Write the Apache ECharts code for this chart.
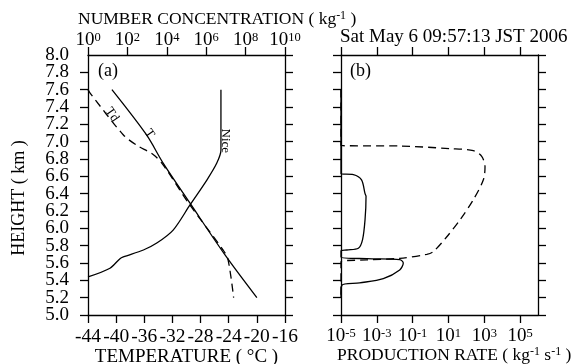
<!DOCTYPE html>
<html>
<head>
<meta charset="utf-8">
<script src="https://cdn.jsdelivr.net/npm/echarts@6/dist/echarts.min.js"></script>
<style>
  html, body { margin: 0; padding: 0; background: #fff; }
  #chart { width: 577px; height: 364px; }
</style>
</head>
<body>
<div id="chart"></div>
<script>
const FONT = 'Liberation Serif';

// panel (a): temperature profiles (degC) against height (km)
const tHeight = [7.6, 7.08, 6.75, 6.29, 5.69, 5.2];
const tTemp = [-40.6, -35.7, -33.3, -29.5, -24.5, -20.0];

const tdHeight = [7.6, 7.56, 7.08, 6.96, 6.85, 6.73, 6.29, 5.75, 5.64, 5.2];
const tdTemp = [-44.0, -43.7, -39.0, -37.1, -34.7, -33.3, -29.7, -24.8, -24.1, -23.3];

// panel (a): ice number concentration (kg-1)
const niceHeight = [5.44, 5.54, 5.65, 5.67, 5.75, 5.83, 5.98, 6.27, 6.56, 6.75, 6.9, 7.6];
const niceConc = [1, 13, 42, 62, 650, 3100, 2.1e4, 1.5e5, 1.1e6, 3.4e6, 5.6e6, 5.6e6];

// panel (b): production rates (kg-1 s-1)
const solidHeight = [7.6, 6.63, 6.62, 6.56, 6.4, 6.37, 6.1, 5.87, 5.77, 5.75, 5.74,
  5.67, 5.65, 5.64, 5.6, 5.52, 5.42, 5.37, 5.34, 5.2];
const solidRate = [1e-5, 1e-5, 4.9e-5, 1.4e-4, 2.2e-4, 2.5e-4, 2.2e-4, 1.6e-4, 9.3e-5, 2.1e-5, 1e-5,
  1e-5, 2.8e-4, 1.9e-2, 3.0e-2, 1.9e-2, 2.3e-3, 1.1e-4, 1.1e-5, 1e-5];

const dashHeight = [7.6, 6.955, 6.95, 6.92, 6.896, 6.83, 6.71, 6.56, 6.33, 6.1, 5.9,
  5.73, 5.7, 5.654, 5.635, 5.615, 5.2];
const dashRate = [1e-5, 1e-5, 1.9e-2, 12, 245, 720, 1100, 890, 245, 45, 7.9,
  1.4, 0.62, 1.9e-2, 2.8e-4, 1e-5, 1e-5];

const concTicks = [1, 1e2, 1e4, 1e6, 1e8, 1e10];
const rateTicks = [1e-5, 1e-3, 1e-1, 1e1, 1e3, 1e5];

const pair = (xs, ys) => xs.map((x, i) => [x, ys[i]]);

const supStyle = { fontFamily: FONT, fontSize: 12.5, color: '#000', verticalAlign: 'top', lineHeight: 12 };
const powLabel = (v) => '10{s|' + Math.round(Math.log10(v)) + '}';

const axisLine = { show: true, onZero: false, lineStyle: { color: '#000', width: 1.3 } };
const tick = { show: true, inside: false, length: 8, lineStyle: { color: '#000', width: 1.3 } };

// height labels are split over two stacked left axes (alternate ticks),
// so neighbouring labels at 0.2 km spacing are never auto-hidden
function heightAxis(gridIndex, position, labelPhase) {
  const showLabel = labelPhase !== null;
  return {
    type: 'value', gridIndex, position, min: 5, max: 8, interval: 0.2,
    axisLine: labelPhase === 1 ? { show: false } : axisLine,
    axisTick: labelPhase === 1 ? { show: false } : tick,
    splitLine: { show: false },
    axisLabel: {
      show: showLabel,
      showMinLabel: labelPhase === 0, showMaxLabel: labelPhase === 1, hideOverlap: false,
      margin: 19, fontFamily: FONT, fontSize: 19, color: '#000',
      formatter: (v) => {
        const k = Math.round((v - 5) / 0.2);
        return k % 2 === labelPhase ? v.toFixed(1) : '';
      }
    }
  };
}

const chart = echarts.init(document.getElementById('chart'));
chart.setOption({
  animation: false,
  backgroundColor: '#fff',
  textStyle: { fontFamily: FONT },
  grid: [
    { left: 88, top: 55, width: 197, height: 260, outerBoundsMode: 'none' },
    { left: 341, top: 55, width: 197, height: 260, outerBoundsMode: 'none' }
  ],
  title: [
    {
      text: 'NUMBER CONCENTRATION ( kg{s|-1} )', left: 78, top: 10, padding: 0,
      textStyle: {
        fontFamily: FONT, fontSize: 17.5, fontWeight: 'normal', color: '#000',
        rich: { s: { fontFamily: FONT, fontSize: 12, verticalAlign: 'top', lineHeight: 12 } }
      }
    },
    {
      text: 'Sat May 6 09:57:13 JST 2006', left: 340, top: 28, padding: 0,
      textStyle: { fontFamily: FONT, fontSize: 19, fontWeight: 'normal', color: '#000' }
    },
    {
      text: 'PRODUCTION RATE ( kg{s|-1} s{s|-1} )', left: 337, top: 346, padding: 0,
      textStyle: {
        fontFamily: FONT, fontSize: 17.5, fontWeight: 'normal', color: '#000',
        rich: { s: { fontFamily: FONT, fontSize: 12, verticalAlign: 'top', lineHeight: 12 } }
      }
    }
  ],
  graphic: [
    { type: 'text', left: 98, top: 62, style: { text: '(a)', font: '18px "Liberation Serif"', fill: '#000' } },
    { type: 'text', left: 350, top: 62, style: { text: '(b)', font: '18px "Liberation Serif"', fill: '#000' } },
    {
      type: 'text', x: 19, y: 198, rotation: Math.PI / 2,
      style: { text: 'HEIGHT ( km )', font: '18px "Liberation Serif"', fill: '#000', align: 'center', verticalAlign: 'middle' }
    }
  ],
  xAxis: [
    {
      type: 'value', gridIndex: 0, position: 'bottom', min: -44, max: -16, interval: 4,
      name: 'TEMPERATURE ( °C )', nameLocation: 'middle', nameGap: 33, nameMoveOverlap: false,
      nameTextStyle: { fontFamily: FONT, fontSize: 19, color: '#000' },
      axisLine, axisTick: tick, splitLine: { show: false },
      axisLabel: {
        showMinLabel: true, showMaxLabel: true, hideOverlap: false,
        margin: 12, fontFamily: FONT, fontSize: 19.5, color: '#000'
      }
    },
    {
      type: 'log', logBase: 10, gridIndex: 0, position: 'top', min: 1, max: 1e10,
      axisLine, splitLine: { show: false },
      axisTick: Object.assign({ customValues: concTicks }, tick),
      axisLabel: {
        customValues: concTicks, margin: 5, formatter: powLabel,
        fontFamily: FONT, fontSize: 19, color: '#000', rich: { s: supStyle }
      }
    },
    {
      type: 'log', logBase: 10, gridIndex: 1, position: 'bottom', min: 1e-5, max: 1e6,
      axisLine, splitLine: { show: false },
      axisTick: Object.assign({ customValues: rateTicks }, tick),
      axisLabel: {
        customValues: rateTicks, margin: 12, formatter: powLabel,
        fontFamily: FONT, fontSize: 19, color: '#000', rich: { s: supStyle }
      }
    },
    {
      type: 'log', logBase: 10, gridIndex: 1, position: 'top', min: 1e-5, max: 1e6,
      axisLine, splitLine: { show: false },
      axisTick: Object.assign({ customValues: rateTicks }, tick),
      axisLabel: { show: false }
    }
  ],
  yAxis: [
    heightAxis(0, 'left', 0),
    heightAxis(0, 'right', null),
    heightAxis(1, 'left', null),
    heightAxis(1, 'right', null),
    heightAxis(0, 'left', 1)
  ],
  series: [
    {
      name: 'T', type: 'line', xAxisIndex: 0, yAxisIndex: 0, data: pair(tTemp, tHeight),
      symbol: 'none', smooth: 0.3, lineStyle: { color: '#000', width: 1.3 },
      markPoint: {
        symbol: 'circle', symbolSize: 1, itemStyle: { color: 'rgba(0,0,0,0)' },
        label: { show: true, position: 'inside', formatter: 'T', rotate: -55, fontFamily: FONT, fontSize: 13, color: '#000' },
        data: [{ coord: [-35.3, 7.09] }]
      }
    },
    {
      name: 'Td', type: 'line', xAxisIndex: 0, yAxisIndex: 0, data: pair(tdTemp, tdHeight),
      symbol: 'none', smooth: 0.3, lineStyle: { color: '#000', width: 1.3, type: [8, 5] },
      markPoint: {
        symbol: 'circle', symbolSize: 1, itemStyle: { color: 'rgba(0,0,0,0)' },
        label: { show: true, position: 'inside', formatter: 'Td', rotate: -55, fontFamily: FONT, fontSize: 13, color: '#000' },
        data: [{ coord: [-40.6, 7.31] }]
      }
    },
    {
      name: 'Nice', type: 'line', xAxisIndex: 1, yAxisIndex: 0, data: pair(niceConc, niceHeight),
      symbol: 'none', smooth: 0.3, lineStyle: { color: '#000', width: 1.3 },
      markPoint: {
        symbol: 'circle', symbolSize: 1, itemStyle: { color: 'rgba(0,0,0,0)' },
        label: { show: true, position: 'inside', formatter: 'Nice', rotate: -90, fontFamily: FONT, fontSize: 13, color: '#000' },
        data: [{ coord: [9e6, 7.01] }]
      }
    },
    {
      name: 'solid', type: 'line', xAxisIndex: 2, yAxisIndex: 2, data: pair(solidRate, solidHeight),
      symbol: 'none', smooth: 0.3, lineStyle: { color: '#000', width: 1.3 }
    },
    {
      name: 'dashed', type: 'line', xAxisIndex: 2, yAxisIndex: 2, data: pair(dashRate, dashHeight),
      symbol: 'none', smooth: 0.3, lineStyle: { color: '#000', width: 1.3, type: [8, 5] }
    }
  ]
});
</script>
</body>
</html>
